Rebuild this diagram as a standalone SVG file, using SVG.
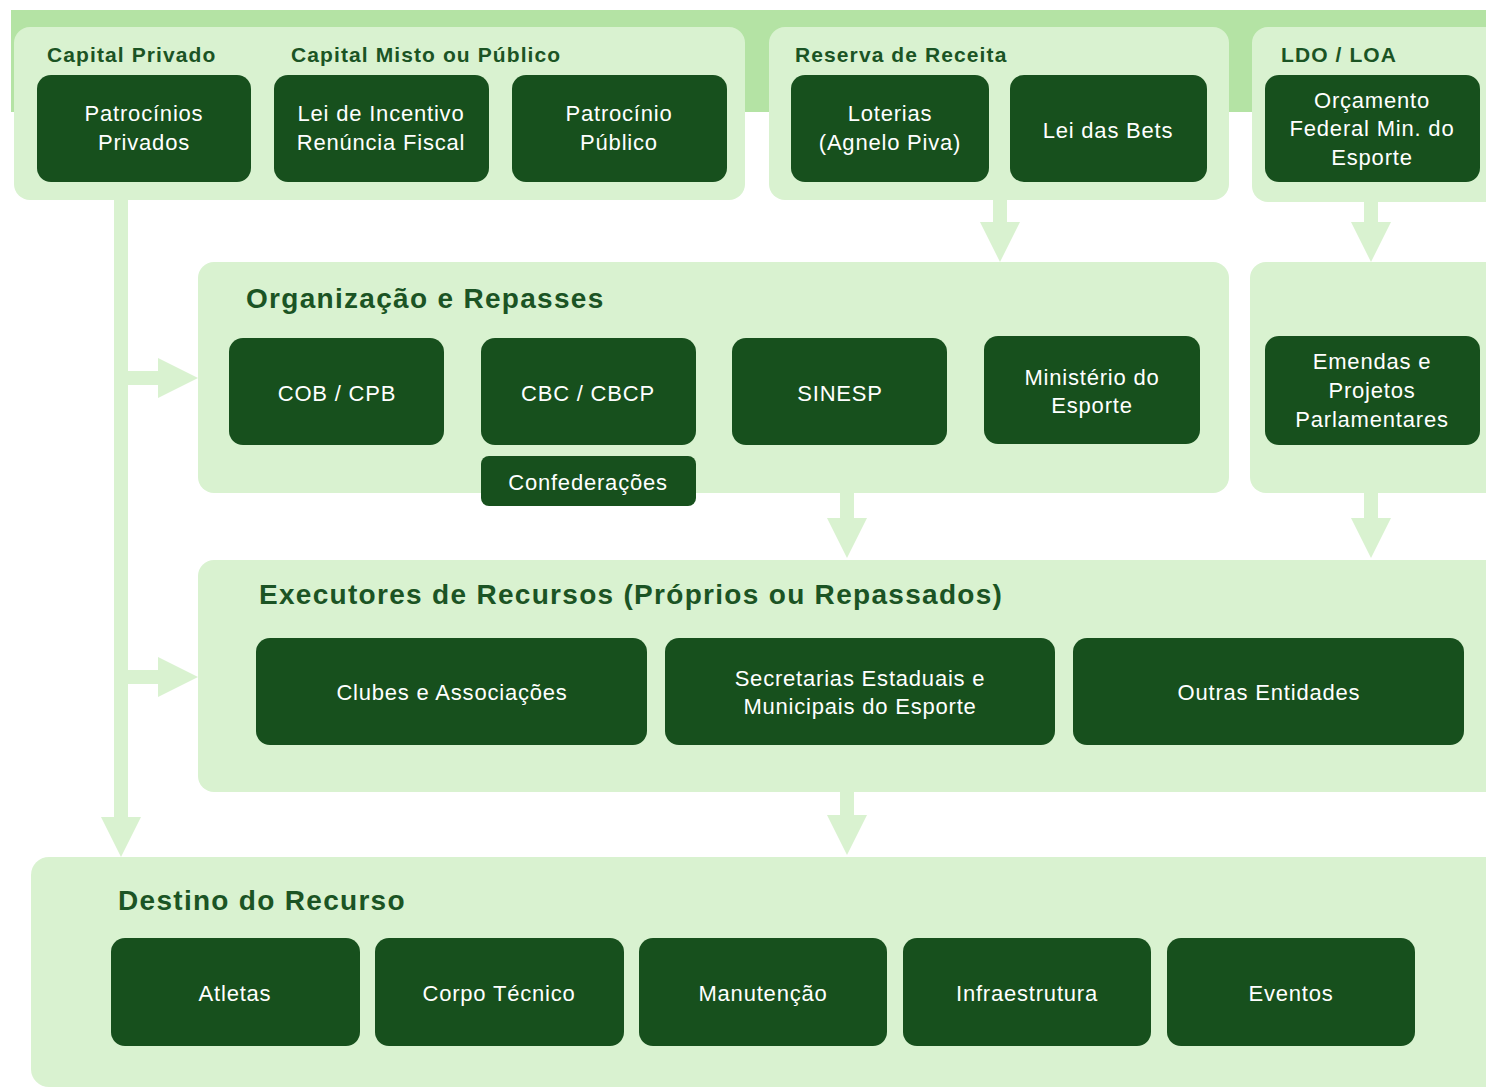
<svg xmlns="http://www.w3.org/2000/svg" width="1486" height="1087" viewBox="0 0 1486 1087">
<style>
.band{fill:#b4e3a4}
.panel{fill:#d9f2d0}
.node{fill:#17501d}
.arrow{fill:#d9f2d0}
.nt{font-family:"Liberation Sans",Arial,sans-serif;font-size:22px;letter-spacing:0.8px;fill:#ffffff;text-anchor:middle}
.lbl{font-family:"Liberation Sans",Arial,sans-serif;font-size:21px;letter-spacing:1.1px;font-weight:bold;fill:#1b5424}
.ttl{font-family:"Liberation Sans",Arial,sans-serif;font-size:28px;letter-spacing:1.3px;font-weight:bold;fill:#1b5424}
</style>
<rect width="1486" height="1087" fill="#ffffff"/>
<rect class="band" x="11" y="10" width="1475" height="102"/>

<g id="connectors">
  <polygon class="arrow" points="993,198 1007,198 1007,222 1020,222 1000,262 980,222 993,222"/>
  <polygon class="arrow" points="1364,200 1378,200 1378,222 1391,222 1371,262 1351,222 1364,222"/>
  <polygon class="arrow" points="840,491 854,491 854,518 867,518 847,558 827,518 840,518"/>
  <polygon class="arrow" points="1364,491 1378,491 1378,518 1391,518 1371,558 1351,518 1364,518"/>
  <polygon class="arrow" points="840,790 854,790 854,815 867,815 847,855 827,815 840,815"/>
  <polygon class="arrow" points="114,198 128,198 128,817 141,817 121,857 101,817 114,817"/>
  <polygon class="arrow" points="126,371 158,371 158,358 198,378 158,398 158,385 126,385"/>
  <polygon class="arrow" points="126,670 158,670 158,657 198,677 158,697 158,684 126,684"/>
</g>

<g id="panel-capital">
  <rect class="panel" x="14" y="27" width="731" height="173" rx="16"/>
  <text class="lbl" x="47" y="62">Capital Privado</text>
  <text class="lbl" x="291" y="62">Capital Misto ou Público</text>
</g>
<g id="panel-reserva">
  <rect class="panel" x="769" y="27" width="460" height="173" rx="16"/>
  <text class="lbl" x="795" y="62">Reserva de Receita</text>
</g>
<g id="panel-ldo">
  <rect class="panel" x="1252" y="27" width="250" height="175" rx="16"/>
  <text class="lbl" x="1281" y="62">LDO / LOA</text>
</g>

<g id="n-patrocinios-privados">
  <rect class="node" x="37" y="75" width="214" height="107" rx="14"/>
  <text class="nt" x="144" y="121">Patrocínios</text>
  <text class="nt" x="144" y="150">Privados</text>
</g>
<g id="n-lei-incentivo">
  <rect class="node" x="274" y="75" width="215" height="107" rx="14"/>
  <text class="nt" x="381" y="121">Lei de Incentivo</text>
  <text class="nt" x="381" y="150">Renúncia Fiscal</text>
</g>
<g id="n-patrocinio-publico">
  <rect class="node" x="512" y="75" width="215" height="107" rx="14"/>
  <text class="nt" x="619" y="121">Patrocínio</text>
  <text class="nt" x="619" y="150">Público</text>
</g>
<g id="n-loterias">
  <rect class="node" x="791" y="75" width="198" height="107" rx="14"/>
  <text class="nt" x="890" y="121">Loterias</text>
  <text class="nt" x="890" y="150">(Agnelo Piva)</text>
</g>
<g id="n-lei-bets">
  <rect class="node" x="1010" y="75" width="197" height="107" rx="14"/>
  <text class="nt" x="1108" y="138">Lei das Bets</text>
</g>
<g id="n-orcamento">
  <rect class="node" x="1265" y="75" width="215" height="107" rx="14"/>
  <text class="nt" x="1372" y="108">Orçamento</text>
  <text class="nt" x="1372" y="136">Federal Min. do</text>
  <text class="nt" x="1372" y="165">Esporte</text>
</g>

<g id="panel-organizacao">
  <rect class="panel" x="198" y="262" width="1031" height="231" rx="16"/>
  <text class="ttl" x="246" y="308">Organização e Repasses</text>
</g>
<g id="panel-emendas">
  <rect class="panel" x="1250" y="262" width="250" height="231" rx="16"/>
</g>
<g id="n-cob">
  <rect class="node" x="229" y="338" width="215" height="107" rx="14"/>
  <text class="nt" x="337" y="401">COB / CPB</text>
</g>
<g id="n-cbc">
  <rect class="node" x="481" y="338" width="215" height="107" rx="14"/>
  <text class="nt" x="588" y="401">CBC / CBCP</text>
</g>
<g id="n-confederacoes">
  <rect class="node" x="481" y="456" width="215" height="50" rx="8"/>
  <text class="nt" x="588" y="490">Confederações</text>
</g>
<g id="n-sinesp">
  <rect class="node" x="732" y="338" width="215" height="107" rx="14"/>
  <text class="nt" x="840" y="401">SINESP</text>
</g>
<g id="n-ministerio">
  <rect class="node" x="984" y="336" width="216" height="108" rx="14"/>
  <text class="nt" x="1092" y="385">Ministério do</text>
  <text class="nt" x="1092" y="413">Esporte</text>
</g>
<g id="n-emendas">
  <rect class="node" x="1265" y="336" width="215" height="109" rx="14"/>
  <text class="nt" x="1372" y="369">Emendas e</text>
  <text class="nt" x="1372" y="398">Projetos</text>
  <text class="nt" x="1372" y="427">Parlamentares</text>
</g>

<g id="panel-executores">
  <rect class="panel" x="198" y="560" width="1310" height="232" rx="16"/>
  <text class="ttl" x="259" y="604">Executores de Recursos (Próprios ou Repassados)</text>
</g>
<g id="n-clubes">
  <rect class="node" x="256" y="638" width="391" height="107" rx="14"/>
  <text class="nt" x="452" y="700">Clubes e Associações</text>
</g>
<g id="n-secretarias">
  <rect class="node" x="665" y="638" width="390" height="107" rx="14"/>
  <text class="nt" x="860" y="686">Secretarias Estaduais e</text>
  <text class="nt" x="860" y="714">Municipais do Esporte</text>
</g>
<g id="n-outras">
  <rect class="node" x="1073" y="638" width="391" height="107" rx="14"/>
  <text class="nt" x="1269" y="700">Outras Entidades</text>
</g>

<g id="panel-destino">
  <rect class="panel" x="31" y="857" width="1477" height="230" rx="18"/>
  <text class="ttl" x="118" y="910">Destino do Recurso</text>
</g>
<g id="n-atletas">
  <rect class="node" x="111" y="938" width="249" height="108" rx="14"/>
  <text class="nt" x="235" y="1001">Atletas</text>
</g>
<g id="n-corpo-tecnico">
  <rect class="node" x="375" y="938" width="249" height="108" rx="14"/>
  <text class="nt" x="499" y="1001">Corpo Técnico</text>
</g>
<g id="n-manutencao">
  <rect class="node" x="639" y="938" width="248" height="108" rx="14"/>
  <text class="nt" x="763" y="1001">Manutenção</text>
</g>
<g id="n-infraestrutura">
  <rect class="node" x="903" y="938" width="248" height="108" rx="14"/>
  <text class="nt" x="1027" y="1001">Infraestrutura</text>
</g>
<g id="n-eventos">
  <rect class="node" x="1167" y="938" width="248" height="108" rx="14"/>
  <text class="nt" x="1291" y="1001">Eventos</text>
</g>
</svg>
